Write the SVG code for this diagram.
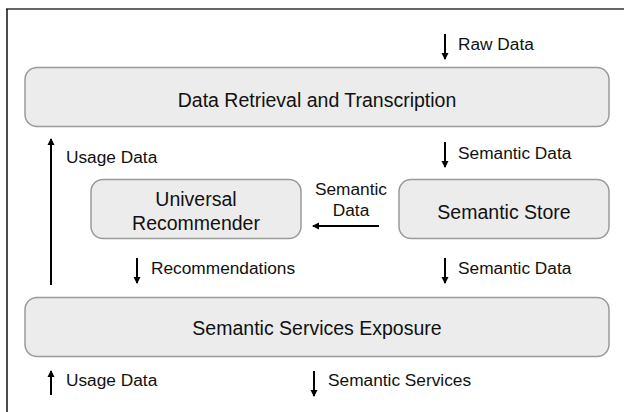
<svg xmlns="http://www.w3.org/2000/svg" width="624" height="412" viewBox="0 0 624 412">
<style>
.box{fill:#ececec;stroke:#9a9a9a;stroke-width:1.5}
.t{font-family:"Liberation Sans",Arial,sans-serif;font-size:19.5px;fill:#111;text-anchor:middle}
.s{font-family:"Liberation Sans",Arial,sans-serif;font-size:17.3px;fill:#111}
.a{stroke:#000;stroke-width:2;fill:none;marker-end:url(#ah)}
</style>
<defs>
<marker id="ah" markerWidth="8" markerHeight="8" refX="6" refY="4" orient="auto" markerUnits="userSpaceOnUse">
<path d="M0,0.5 L7,4 L0,7.5 z" fill="#000"/>
</marker>
</defs>
<rect x="0" y="0" width="624" height="412" fill="#fff"/>
<line x1="6" y1="9" x2="624" y2="9" stroke="#666" stroke-width="2"/>
<line x1="7" y1="9" x2="7" y2="412" stroke="#111" stroke-width="1.5"/>
<g id="retrieval">
<rect class="box" x="25" y="67.5" width="584" height="59" rx="12"/>
<text class="t" x="317" y="107">Data Retrieval and Transcription</text>
</g>
<g id="recommender">
<rect class="box" x="91" y="179.5" width="210" height="59" rx="12"/>
<text class="t" x="196" y="206">Universal</text>
<text class="t" x="196" y="230">Recommender</text>
</g>
<g id="store">
<rect class="box" x="399" y="179.5" width="210" height="59" rx="12"/>
<text class="t" x="504" y="219">Semantic Store</text>
</g>
<g id="exposure">
<rect class="box" x="25" y="297.5" width="584" height="59" rx="12"/>
<text class="t" x="317" y="335">Semantic Services Exposure</text>
</g>
<g id="connectors">
<line class="a" x1="445" y1="34" x2="445" y2="59"/>
<line class="a" x1="445" y1="142" x2="445" y2="167"/>
<line class="a" x1="445" y1="258" x2="445" y2="283"/>
<line class="a" x1="137" y1="258" x2="137" y2="283"/>
<line class="a" x1="51" y1="285" x2="51" y2="139"/>
<line class="a" x1="51" y1="395" x2="51" y2="371"/>
<line class="a" x1="314" y1="371" x2="314" y2="396"/>
<line class="a" x1="379" y1="226" x2="313" y2="226"/>
</g>
<g id="labels">
<text class="s" x="458" y="50">Raw Data</text>
<text class="s" x="66" y="163">Usage Data</text>
<text class="s" x="458" y="159">Semantic Data</text>
<text class="s" x="351" y="195" text-anchor="middle">Semantic</text>
<text class="s" x="351" y="216" text-anchor="middle">Data</text>
<text class="s" x="151" y="274">Recommendations</text>
<text class="s" x="458" y="274">Semantic Data</text>
<text class="s" x="66" y="386">Usage Data</text>
<text class="s" x="328" y="386">Semantic Services</text>
</g>
</svg>
